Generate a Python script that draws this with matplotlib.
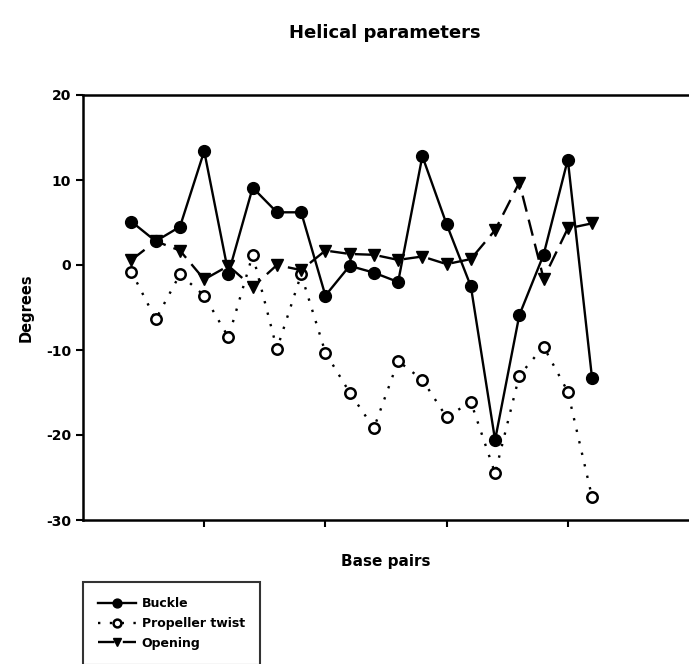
import numpy as np
import matplotlib
matplotlib.use('Agg')
import matplotlib.pyplot as plt

plt.rcParams['font.family'] = ['DejaVu Sans']
plt.rcParams['font.weight'] = 'bold'

# base pair index
base_pairs = list(range(2, 22))
buckle = [5.1, 2.8, 4.5, 13.4, -1.0, 9.1, 6.2, 6.2, -3.6, -0.1,
          -0.9, -2.0, 12.8, 4.8, -2.5, -20.6, -5.9, 1.2, 12.4, -13.3]
propeller_twist = [-0.8, -6.4, -1.1, -3.6, -8.5, 1.2, -9.9, -1.1, -10.3, -15.0,
                   -19.2, -11.3, -13.5, -17.9, -16.1, -24.5, -13.0, -9.6, -14.9, -27.3]
opening = [0.6, 2.8, 1.7, -1.7, -0.1, -2.6, 0.0, -0.6, 1.7, 1.3,
           1.2, 0.6, 1.0, 0.1, 0.7, 4.1, 9.7, -1.6, 4.3, 4.9]
x_ticks = [5, 10, 15, 20]
y_ticks = [20, 10, 0, -10, -20, -30]

fig = plt.figure(figsize=(6.89, 6.64), dpi=100)
ax = fig.add_axes([83 / 689, 144 / 664, 606 / 689, 425 / 664])

ax.plot(base_pairs, buckle, color='black', linestyle='-', linewidth=1.7,
        marker='o', markersize=8.5, markerfacecolor='black', label='Buckle', zorder=3)
ax.plot(base_pairs, propeller_twist, color='black', linestyle=(0, (1, 4)), linewidth=1.7,
        marker='o', markersize=7.5, markerfacecolor='white', markeredgewidth=1.8,
        label='Propeller twist', zorder=2)
ax.plot(base_pairs, opening, color='black', linestyle=(0, (7, 3.5)), linewidth=1.7,
        marker='v', markersize=8, markerfacecolor='black', label='Opening', zorder=2)

ax.set_xlim(0, 25)
ax.set_ylim(-30, 20)
ax.set_xticks(x_ticks)
ax.set_xticklabels([])
ax.set_yticks(y_ticks)
ax.set_yticklabels([str(v) for v in y_ticks], fontsize=10, fontweight='bold')
ax.tick_params(axis='both', direction='out', length=5, width=1.5, color='black')

for side in ['left', 'bottom', 'top']:
    ax.spines[side].set_linewidth(1.8)
ax.spines['right'].set_visible(False)

ax.set_ylabel('Degrees', fontsize=10.5, fontweight='bold', labelpad=9)
ax.set_xlabel('Base pairs', fontsize=11, fontweight='bold', labelpad=16)
fig.text(385 / 689, 1 - 33 / 664, 'Helical parameters', ha='center', va='center',
         fontsize=13, fontweight='bold')

leg = fig.legend(loc='upper left', bbox_to_anchor=(83 / 689, 1 - 582 / 664),
                 borderaxespad=0, prop={'size': 9, 'weight': 'bold'}, frameon=True,
                 fancybox=False, edgecolor='black', handlelength=3.0, handletextpad=0.5,
                 borderpad=1.2, labelspacing=0.55, markerscale=0.75)
leg.get_frame().set_linewidth(1.5)

fig.savefig('out.png', dpi=100)
